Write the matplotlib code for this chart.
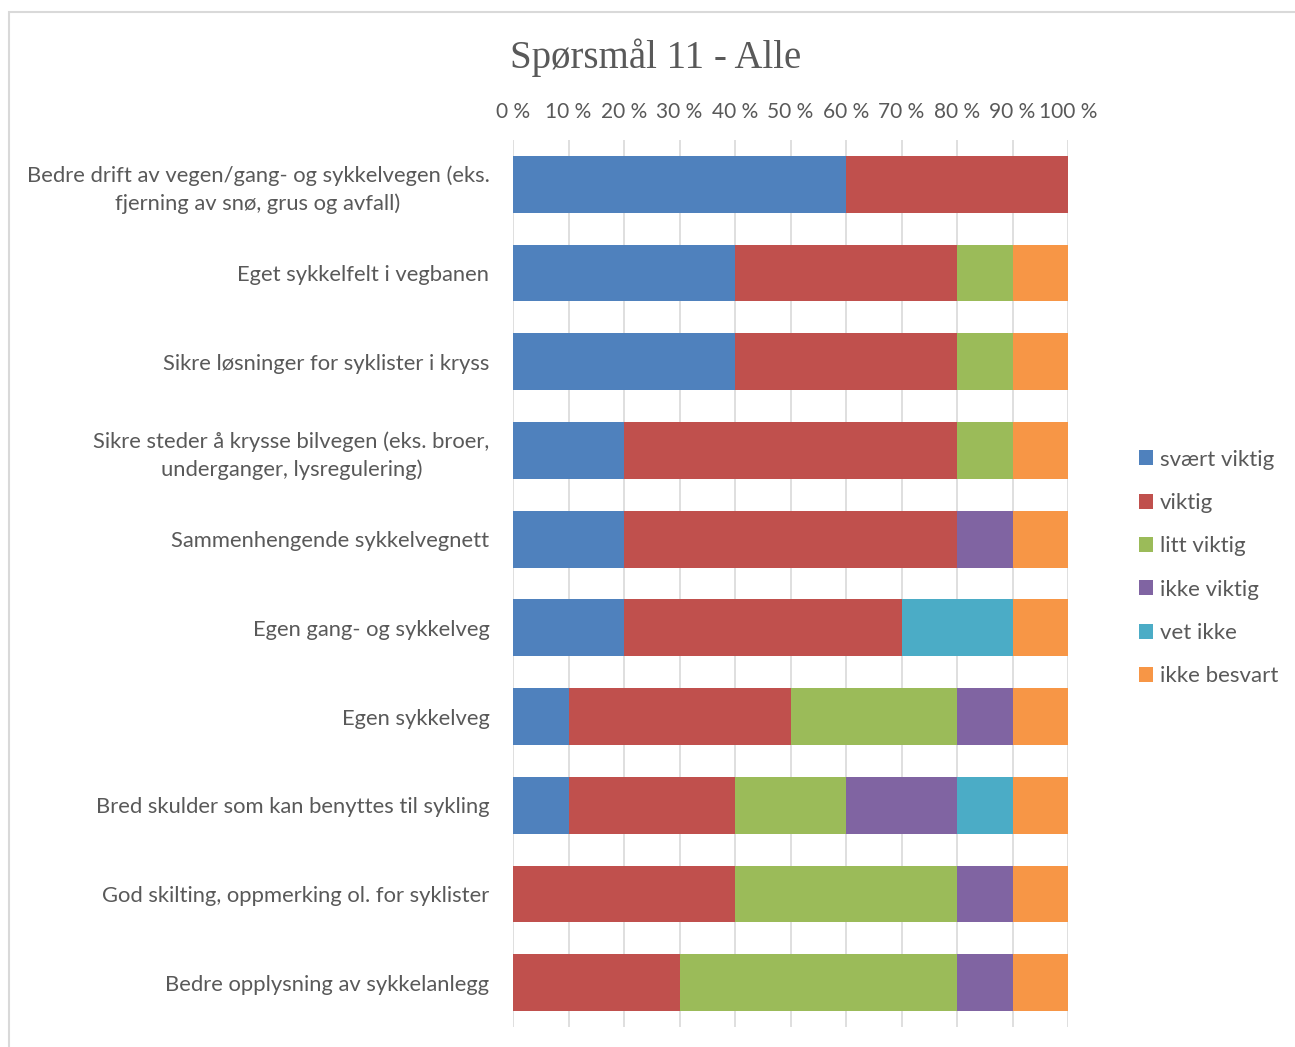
import numpy as np
import matplotlib
matplotlib.use("Agg")
import matplotlib.pyplot as plt
from matplotlib.patches import Patch, Rectangle

# Spørsmål 11 - andel svar per tiltak (prosent)
kategorier = [
    "Bedre drift av vegen/gang- og sykkelvegen (eks.\nfjerning av snø, grus og avfall)",
    "Eget sykkelfelt i vegbanen",
    "Sikre løsninger for syklister i kryss",
    "Sikre steder å krysse bilvegen (eks. broer,\nunderganger, lysregulering)",
    "Sammenhengende sykkelvegnett",
    "Egen gang- og sykkelveg",
    "Egen sykkelveg",
    "Bred skulder som kan benyttes til sykling",
    "God skilting, oppmerking ol. for syklister",
    "Bedre opplysning av sykkelanlegg",
]
svaert_viktig = [60, 40, 40, 20, 20, 20, 10, 10, 0, 0]
viktig        = [40, 40, 40, 60, 60, 50, 40, 30, 40, 30]
litt_viktig   = [0, 10, 10, 10, 0, 0, 30, 20, 40, 50]
ikke_viktig   = [0, 0, 0, 0, 10, 0, 10, 20, 10, 10]
vet_ikke      = [0, 0, 0, 0, 0, 20, 0, 10, 0, 0]
ikke_besvart  = [0, 10, 10, 10, 10, 10, 10, 10, 10, 10]

serier = ["svært viktig", "viktig", "litt viktig", "ikke viktig", "vet ikke", "ikke besvart"]
verdier = [svaert_viktig, viktig, litt_viktig, ikke_viktig, vet_ikke, ikke_besvart]
farger = ["#4F81BD", "#C0504D", "#9BBB59", "#8064A2", "#4BACC6", "#F79646"]

plt.rcParams['font.family'] = ['Lato', 'DejaVu Sans']
tekstfarge = "#595959"

fig = plt.figure(figsize=(12.95, 10.47), dpi=100)
ax = fig.add_axes([513 / 1295, 1 - 1027 / 1047, 555 / 1295, 887 / 1047])

y = np.arange(len(kategorier))
venstre = np.zeros(len(kategorier))
for navn, v, f in zip(serier, verdier, farger):
    v = np.array(v, dtype=float)
    ax.barh(y, v, left=venstre, height=0.64, color=f, label=navn, zorder=3)
    venstre += v

ax.set_xlim(0, 100)
ax.set_ylim(len(kategorier) - 0.5, -0.5)
ax.set_xticks(np.arange(0, 101, 10))
ax.set_xticklabels([f"{t} %" for t in range(0, 101, 10)])
ax.xaxis.tick_top()
ax.set_yticks(y)
ax.set_yticklabels(kategorier)
for lbl in ax.get_yticklabels():
    lbl.set_multialignment("center")
    lbl.set_linespacing(1.4)

ax.grid(axis="x", color="#D9D9D9", linewidth=1.2, zorder=0)
for s in ax.spines.values():
    s.set_visible(False)
ax.tick_params(axis="x", length=0, pad=13, labelsize=15, labelcolor=tekstfarge)
ax.tick_params(axis="y", length=0, pad=17, labelsize=15.8, labelcolor=tekstfarge)

fig.text(656 / 1295, 1 - 58 / 1047, "Spørsmål 11 - Alle", ha="center", va="center",
         fontsize=28, color=tekstfarge, family=["Liberation Serif", "DejaVu Serif"])

handles = [Patch(facecolor=f, label=n) for n, f in zip(serier, farger)]
fig.legend(handles=handles, loc="center left", bbox_to_anchor=(1139 / 1295, 1 - 568 / 1047),
           frameon=False, fontsize=16, handlelength=0.65, handleheight=0.65,
           handletextpad=0.3, labelspacing=1.05, labelcolor=tekstfarge,
           borderpad=0, borderaxespad=0)

# tynn ramme rundt diagrammet
fig.patches.append(Rectangle((9 / 1295, -0.1), 1.2, 1 - 12 / 1047 + 0.1, transform=fig.transFigure,
                             fill=False, edgecolor="#D9D9D9", linewidth=1.5))

fig.savefig("out.png", dpi=100)
